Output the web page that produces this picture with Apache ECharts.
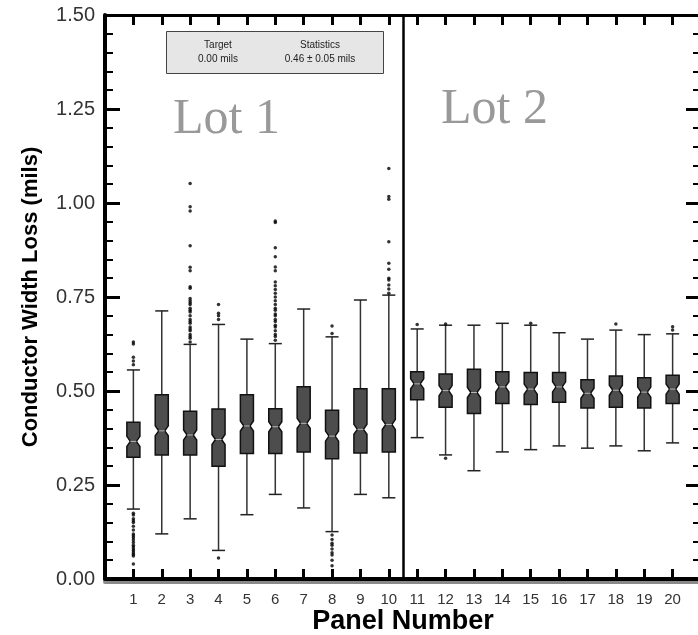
<!DOCTYPE html>
<html>
<head>
<meta charset="utf-8">
<script src="https://cdn.jsdelivr.net/npm/echarts@6/dist/echarts.min.js"></script>
<style>
html,body{margin:0;padding:0;background:#fff;}
#chart{width:698px;height:635px;}
</style>
</head>
<body>
<div id="chart"></div>
<script>
// ---- data ----
var panels      = [1,2,3,4,5,6,7,8,9,10,11,12,13,14,15,16,17,18,19,20];
var whiskerLow  = [0.186,0.120,0.160,0.076,0.171,0.225,0.189,0.126,0.225,0.216,0.376,0.330,0.288,0.338,0.344,0.354,0.348,0.354,0.341,0.362];
var q1          = [0.324,0.330,0.330,0.300,0.334,0.334,0.338,0.320,0.335,0.338,0.477,0.457,0.440,0.467,0.464,0.470,0.455,0.457,0.455,0.467];
var median      = [0.366,0.394,0.383,0.371,0.407,0.405,0.414,0.380,0.398,0.411,0.519,0.501,0.496,0.511,0.505,0.511,0.494,0.502,0.497,0.505];
var q3          = [0.417,0.490,0.446,0.452,0.490,0.453,0.511,0.449,0.506,0.506,0.551,0.545,0.558,0.551,0.549,0.549,0.530,0.540,0.535,0.542];
var whiskerHigh = [0.556,0.713,0.624,0.677,0.638,0.626,0.718,0.644,0.742,0.755,0.665,0.675,0.675,0.680,0.675,0.655,0.638,0.662,0.650,0.652];
var outliers = [
  [0.630,0.625,0.590,0.580,0.570,0.175,0.170,0.160,0.155,0.150,0.140,0.130,0.120,0.115,0.110,0.104,0.097,0.090,0.085,0.080,0.075,0.070,0.065,0.061,0.040],
  [],
  [0.630,0.640,0.645,0.650,0.660,0.665,0.670,0.680,0.685,0.690,0.700,0.710,0.715,0.720,0.730,0.735,0.740,0.746,0.773,0.777,0.820,0.829,0.886,0.979,0.990,1.052],
  [0.690,0.700,0.707,0.730,0.056],
  [],
  [0.635,0.645,0.650,0.660,0.670,0.675,0.685,0.690,0.700,0.705,0.715,0.720,0.730,0.740,0.750,0.760,0.770,0.780,0.790,0.820,0.830,0.857,0.881,0.948,0.952],
  [],
  [0.653,0.673,0.117,0.105,0.095,0.090,0.080,0.070,0.064,0.050,0.035],
  [],
  [0.760,0.771,0.782,0.795,0.800,0.824,0.840,0.897,1.010,1.017,1.092],
  [0.677],
  [0.678,0.321],
  [],
  [],
  [0.680],
  [],
  [],
  [0.678],
  [],
  [0.671,0.662]
];
var yTicks = [0, 0.25, 0.5, 0.75, 1.0, 1.25, 1.5];
var xLabelRange = [1, 20];
var lotLabels = ['Lot 1', 'Lot 2'];
var lotDivider = 10.5;
var statTitles = ['Target', 'Statistics'];
var statValues = ['0.00 mils', '0.46 \u00b1 0.05 mils'];

// ---- build ----
var boxData = panels.map(function(p, i){
  return [p, whiskerLow[i], q1[i], median[i], q3[i], whiskerHigh[i]];
});
var outlierData = [];
outliers.forEach(function(list, i){
  list.forEach(function(v){ outlierData.push([panels[i], v]); });
});

var FONT = 'Liberation Sans, Arial, sans-serif';
var chart = echarts.init(document.getElementById('chart'), null, {renderer:'canvas'});

function xAxisCfg(pos){
  return {
    type:'value', position:pos, min:0, max:21, interval:1,
    axisLine:{show:true, onZero:false, lineStyle: pos==='bottom'
      ? {color:'#000', width:4, shadowColor:'#8a8a8a', shadowOffsetY:3, shadowBlur:0}
      : {color:'#000', width:3}},
    axisTick:{show:true, inside:true, length:10, lineStyle:{color:'#000', width:3}},
    axisLabel:{show: pos==='bottom', margin:13, fontSize:15, color:'#333', fontFamily:FONT,
      formatter:function(v){ return (v>=xLabelRange[0] && v<=xLabelRange[1]) ? String(v) : ''; }},
    splitLine:{show:false},
    name: pos==='bottom' ? 'Panel Number' : '',
    nameLocation:'middle', nameGap:29, nameMoveOverlap:false,
    nameTextStyle:{fontSize:27, fontWeight:'bold', color:'#000', fontFamily:FONT}
  };
}
function yAxisCfg(pos){
  return {
    type:'value', position:pos, min:yTicks[0], max:yTicks[yTicks.length-1], interval:yTicks[1]-yTicks[0],
    axisLine:{show:true, onZero:false, lineStyle:{color:'#000', width:4}},
    axisTick:{show:true, inside:true, length:15, lineStyle:{color:'#000', width:3}},
    minorTick:{show:true, splitNumber:5, length:8, lineStyle:{color:'#000', width:2}},
    axisLabel:{show: pos==='left', margin:10, fontSize:20, color:'#333', fontFamily:FONT,
      formatter:function(v){ return v.toFixed(2); }},
    splitLine:{show:false},
    name: pos==='left' ? 'Conductor Width Loss (mils)' : '',
    nameLocation:'middle', nameGap:63,
    nameTextStyle:{fontSize:22, fontWeight:'bold', color:'#000', fontFamily:FONT}
  };
}

var option = {
  animation:false,
  backgroundColor:'#fff',
  grid:{left:105, width:596, top:15, height:564, containLabel:false, outerBoundsMode:'none'},
  xAxis:[xAxisCfg('bottom'), xAxisCfg('top')],
  yAxis:[yAxisCfg('left'), yAxisCfg('right')],
  graphic:[
    {type:'rect', left:166, top:31, shape:{width:217, height:42},
     style:{fill:'#e6e6e6', stroke:'#444', lineWidth:1}, z:10},
    {type:'text', x:218, y:45, style:{text:statTitles[0], fontSize:10, fill:'#222', fontFamily:FONT, textAlign:'center', textVerticalAlign:'middle'}, z:11},
    {type:'text', x:218, y:59, style:{text:statValues[0], fontSize:10, fill:'#222', fontFamily:FONT, textAlign:'center', textVerticalAlign:'middle'}, z:11},
    {type:'text', x:320, y:45, style:{text:statTitles[1], fontSize:10, fill:'#222', fontFamily:FONT, textAlign:'center', textVerticalAlign:'middle'}, z:11},
    {type:'text', x:320, y:59, style:{text:statValues[1], fontSize:10, fill:'#222', fontFamily:FONT, textAlign:'center', textVerticalAlign:'middle'}, z:11},
    {type:'text', x:173, y:120, style:{text:lotLabels[0], fontSize:50, fill:'#999', fontFamily:'Liberation Serif, Times New Roman, serif', textAlign:'left', textVerticalAlign:'middle'}, z:11},
    {type:'text', x:441, y:110, style:{text:lotLabels[1], fontSize:50, fill:'#999', fontFamily:'Liberation Serif, Times New Roman, serif', textAlign:'left', textVerticalAlign:'middle'}, z:11}
  ],
  series:[
    {
      type:'custom',
      xAxisIndex:0, yAxisIndex:0,
      data:boxData,
      encode:{x:0, y:[1,2,3,4,5]},
      renderItem:function(params, api){
        var x = api.value(0);
        var pLow = api.coord([x, api.value(1)]);
        var pQ1 = api.coord([x, api.value(2)]);
        var pMed = api.coord([x, api.value(3)]);
        var pQ3 = api.coord([x, api.value(4)]);
        var pHigh = api.coord([x, api.value(5)]);
        var hw = api.size([0.46, 0])[0] / 2;
        var cx = pMed[0];
        var n = 5, ins = 3.5;
        var my = pMed[1];
        var pts = [
          [cx-hw, pQ3[1]], [cx+hw, pQ3[1]], [cx+hw, my-n], [cx+hw-ins, my], [cx+hw, my+n],
          [cx+hw, pQ1[1]], [cx-hw, pQ1[1]], [cx-hw, my+n], [cx-hw+ins, my], [cx-hw, my-n]
        ];
        var wStyle = {stroke:'#333', lineWidth:1.5};
        return {type:'group', children:[
          {type:'line', shape:{x1:cx, y1:pHigh[1], x2:cx, y2:pQ3[1]}, style:wStyle},
          {type:'line', shape:{x1:cx, y1:pQ1[1], x2:cx, y2:pLow[1]}, style:wStyle},
          {type:'line', shape:{x1:cx-hw, y1:pHigh[1], x2:cx+hw, y2:pHigh[1]}, style:{stroke:'#222', lineWidth:1.5}},
          {type:'line', shape:{x1:cx-hw, y1:pLow[1], x2:cx+hw, y2:pLow[1]}, style:{stroke:'#222', lineWidth:1.5}},
          {type:'polygon', shape:{points:pts}, style:{fill:'#4d4d4d', stroke:'#111', lineWidth:1.5}},
          {type:'line', shape:{x1:cx-hw+ins, y1:my, x2:cx+hw-ins, y2:my}, style:{stroke:'#b5b5b5', lineWidth:1}}
        ]};
      },
      z:3
    },
    {
      type:'scatter',
      xAxisIndex:0, yAxisIndex:0,
      data:outlierData,
      symbol:'circle', symbolSize:3.5,
      itemStyle:{color:'#000'},
      z:4,
      markLine:{
        silent:true, symbol:['none','none'], label:{show:false},
        lineStyle:{color:'#000', width:2.5, type:'solid'},
        data:[[{coord:[lotDivider, yTicks[0]]},{coord:[lotDivider, yTicks[yTicks.length-1]]}]]
      }
    }
  ]
};
chart.setOption(option);
</script>
</body>
</html>
